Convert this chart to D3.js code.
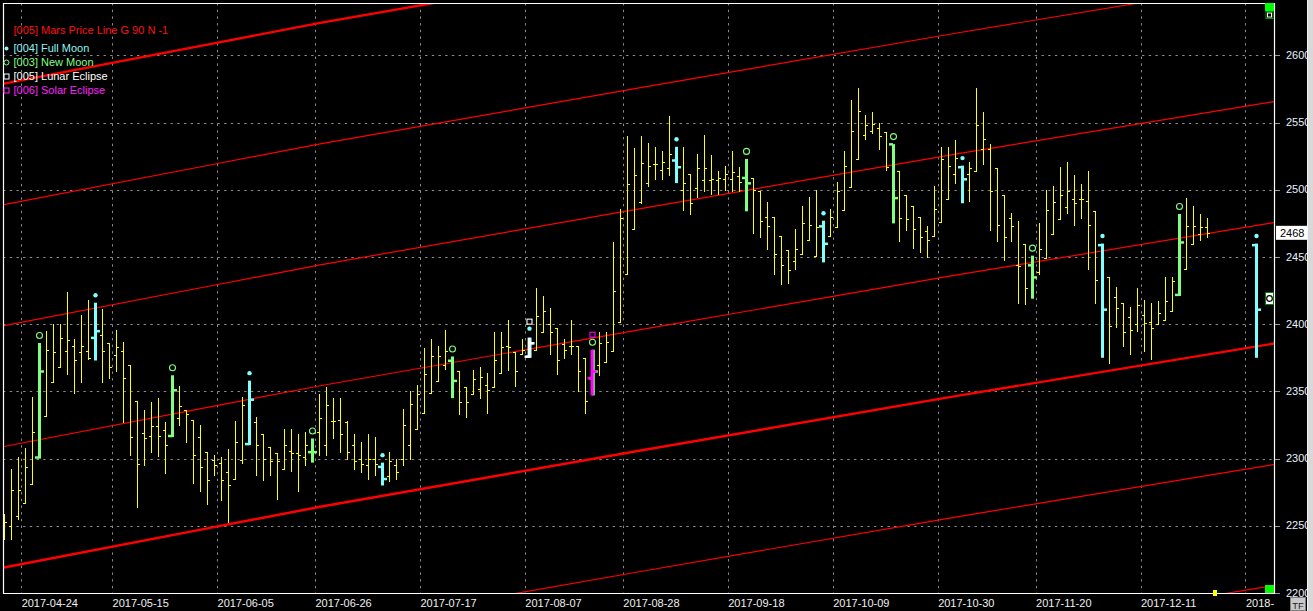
<!DOCTYPE html>
<html><head><meta charset="utf-8">
<script src="https://cdn.jsdelivr.net/npm/d3@7"></script>
<style>html,body{margin:0;padding:0;background:#000;overflow:hidden}text{font-family:"Liberation Sans",Arial,sans-serif}</style>
</head><body>
<svg id="c" width="1313" height="611"></svg>
<script>
// ---------- DATA ----------
// OHLC per trading bar (index 0 = first bar on the left); null = no bar
const opens = [2245,2250,2257,2267,2281,2301,2332,2357,2368,2380,2384,2379,2380,2390,2392,2386,2377,2380,2370,2343,
2319,2317,2324,2321,2317,2330,2336,2329,2316,2305,2299,2297,2290,2285,2299,2311,2327,2318,2309,2304,
2292,2306,2304,2301,2305,2320,2310,2328,2329,2327,2310,2300,2295,2300,2294,2287,2295,2300,2310,2322,
2334,2349,2358,2370,2373,2365,2353,2348,2352,2355,2353,2364,2384,2379,2378,2376,2381,2394,2400,2397,
2385,2384,2384,2375,2360,2370,2372,2380,2402,2437,2471,2491,2505,2519,2515,2516,2522,2500,2512,2501,
2507,2507,2507,2508,2508,2510,2509,2509,2499,2480,2480,2466,2455,2447,2452,2463,2451,2473,2466,2472,
2485,2502,2523,2541,2544,2546,2543,2534,2514,2496,2488,2480,2469,2466,2476,2493,2512,2517,2512,2514,
2530,2530,2516,2496,2479,2444,2460,2444,2439,2449,2467,2478,2487,2493,2493,2492,2484,2459,2435,2420,
2416,2405,2400,2407,2402,2400,2403,2410,2422,2441,2460,2467,2472,null,null,null,null,null,null,2459];
const highs = [2259,2292,2301,2308,2346,2386,2395,2400,2400,2424,2389,2407,2418,2416,2411,2386,2396,2387,2370,2343,
2336,2342,2345,2327,2362,2354,2336,2329,2325,2305,2303,2301,2307,2328,2346,2358,2331,2318,2309,2304,
2322,2322,2318,2320,2315,2348,2353,2345,2345,2328,2318,2312,2318,2316,2297,2305,2300,2337,2350,2355,
2382,2389,2384,2396,2376,2365,2353,2366,2368,2364,2394,2394,2403,2379,2389,2390,2427,2421,2412,2397,
2389,2403,2384,2375,2381,2394,2394,2461,2486,2540,2531,2540,2535,2532,2529,2555,2532,2532,2512,2527,
2541,2526,2514,2518,2529,2517,2523,2509,2499,2491,2480,2466,2455,2471,2488,2495,2500,2477,2486,2506,
2529,2567,2576,2556,2558,2550,2543,2534,2514,2496,2488,2480,2473,2503,2532,2532,2537,2518,2521,2576,
2558,2534,2516,2496,2483,2477,2460,2451,2475,2500,2503,2517,2521,2511,2504,2514,2484,2460,2435,2428,
2416,2413,2427,2418,2416,2417,2435,2435,2482,2494,2488,2482,2479,null,null,null,null,null,null,2460];
const lows = [2240,2240,2255,2267,2281,2300,2332,2357,2368,2363,2349,2357,2374,2373,2357,2360,2365,2327,2303,2264,
2295,2305,2302,2289,2316,2325,2312,2282,2276,2266,2288,2269,2253,2285,2297,2310,2288,2284,2288,2270,
2292,2291,2276,2295,2297,2303,2303,2315,2305,2300,2292,2290,2285,2288,2280,2283,2285,2295,2300,2322,
2334,2349,2358,2367,2345,2333,2331,2348,2345,2334,2353,2364,2366,2354,2378,2375,2381,2394,2378,2363,
2375,2378,2350,2334,2347,2362,2372,2380,2402,2437,2471,2490,2503,2508,2508,2511,2505,2485,2482,2495,
2499,2497,2497,2500,2499,2499,2484,2468,2465,2456,2437,2430,2431,2441,2452,2463,2451,2446,2466,2472,
2485,2502,2523,2538,2542,2530,2515,2475,2462,2470,2457,2454,2450,2466,2476,2493,2505,2490,2492,2514,
2519,2470,2462,2448,2462,2416,2415,2419,2437,2449,2467,2478,2483,2474,2479,2441,2416,2375,2371,2398,
2384,2378,2395,2380,2374,2400,2403,2410,2421,2441,2460,2463,2465,null,null,null,null,null,null,2375];
const closes = [2253,2277,2277,2294,2320,2365,2381,2379,2390,2388,2373,2384,2375,2395,2380,2368,2383,2360,2316,2296,
2315,2324,2317,2310,2351,2339,2333,2303,2294,2284,2295,2284,2280,2312,2340,2344,2310,2300,2298,2298,
2310,2304,2303,2310,2305,2330,2340,2328,2318,2305,2298,2296,2300,2296,2285,2298,2290,2325,2341,2348,
2363,2376,2376,2380,2358,2342,2342,2359,2361,2351,2373,2383,2383,2365,2381,2386,2406,2410,2394,2373,
2381,2384,2365,2343,2365,2386,2387,2425,2479,2504,2511,2520,2518,2519,2521,2527,2517,2505,2490,2516,
2516,2508,2509,2512,2513,2506,2505,2500,2477,2473,2452,2444,2440,2456,2475,2474,2472,2460,2480,2499,
2518,2544,2559,2548,2549,2540,2517,2494,2479,2478,2471,2465,2463,2486,2523,2518,2524,2508,2516,2548,
2538,2499,2474,2465,2473,2443,2427,2435,2456,2485,2491,2496,2499,2490,2493,2474,2433,2411,2399,2412,
2394,2396,2414,2401,2397,2408,2417,2432,2461,2473,2473,2472,2468,null,null,null,null,null,null,2411];

const fullMoonIdx = [13,35,54,75,96,117,137,157,179];
const newMoonIdx = [5,24,44,64,84,106,127,147,168];
const lunarEclipseIdx = [75];
const solarEclipseIdx = [84];

// Mars price line: base value read at bar positions; parallel lines every 90
const marsIdx  = [-1, 0, 30, 45, 91, 136, 182];
const marsBase = [2218, 2219, 2249, 2264, 2306, 2346.5, 2386];
const marsOffsets = [-180, -90, 0, 90, 180, 270, 360];
const marsThick = [0, 360];

const tickIdx = [3,16,31,45,60,75,89,104,119,134,148,163,178];
const tickLabels = ["2017-04-24","2017-05-15","2017-06-05","2017-06-26","2017-07-17","2017-08-07",
"2017-08-28","2017-09-18","2017-10-09","2017-10-30","2017-11-20","2017-12-11","2018-01-01"];
const yTicks = [2200,2250,2300,2350,2400,2450,2500,2550,2600];
const lastPrice = 2468;

const legend = [
  {label:"[005] Mars Price Line G 90 N -1", color:"#ff1010", sym:null},
  {label:"[004] Full Moon", color:"#8ff2f2", sym:"dot"},
  {label:"[003] New Moon", color:"#80ff80", sym:"circle"},
  {label:"[005] Lunar Eclipse", color:"#ffffff", sym:"square"},
  {label:"[006] Solar Eclipse", color:"#ff20ff", sym:"square"}
];

// ---------- CHART ----------
const svg = d3.select("#c");
const P = {l:3, t:3, r:1274, b:593};
const x = d3.scaleLinear().domain([0,179]).range([4,1256.3]);
const y = d3.scaleLinear().domain([2200,2639]).range([593,3]);
const px = v => Math.round(v) + 0.5;

svg.append("rect").attr("width",1313).attr("height",611).attr("fill","#000");
const defs = svg.append("defs");
defs.append("clipPath").attr("id","plotclip").append("rect")
  .attr("x",P.l).attr("y",P.t).attr("width",P.r-P.l).attr("height",P.b-P.t);
defs.append("clipPath").attr("id","xlabclip").append("rect")
  .attr("x",0).attr("y",594).attr("width",1274).attr("height",17);

const g = svg.append("g").attr("clip-path","url(#plotclip)");

// grid
const dash = "2.4,4.3";
g.selectAll(".hg").data(yTicks.filter(v=>v>2200)).enter().append("line")
  .attr("x1",P.l).attr("x2",P.r).attr("y1",d=>px(y(d))).attr("y2",d=>px(y(d)))
  .attr("stroke","#8a8a8a").attr("stroke-dasharray",dash);
g.selectAll(".vg").data(tickIdx).enter().append("line")
  .attr("x1",d=>px(x(d-0.55))).attr("x2",d=>px(x(d-0.55))).attr("y1",P.t).attr("y2",P.b)
  .attr("stroke","#8a8a8a").attr("stroke-dasharray",dash);

// Mars lines
const marsPts = marsIdx.map((d,i)=>({i:d,v:marsBase[i]}));
marsOffsets.forEach(off=>{
  const line = d3.line().x(d=>x(d.i)).y(d=>y(d.v+off));
  g.append("path").attr("d",line(marsPts)).attr("fill","none")
    .attr("stroke","#ff0000").attr("stroke-width", marsThick.includes(off)?2.4:1.2);
});

// OHLC bars
const bars = opens.map((o,i)=>({i,o,h:highs[i],l:lows[i],c:closes[i]})).filter(d=>d.o!=null);
const colorOf = d => lunarEclipseIdx.includes(d.i) ? "#ffffff" :
  solarEclipseIdx.includes(d.i) ? "#ff00ff" :
  fullMoonIdx.includes(d.i) ? "#80ffff" :
  newMoonIdx.includes(d.i) ? "#80ff80" : null;

const plain = bars.filter(d=>!colorOf(d));
const gb = g.append("g").attr("stroke","#ffff00").attr("stroke-width",1);
plain.forEach(d=>{
  const cx = px(x(d.i));
  gb.append("line").attr("x1",cx).attr("x2",cx).attr("y1",Math.round(y(d.h))).attr("y2",Math.round(y(d.l))+1);
  gb.append("line").attr("x1",cx-2.5).attr("x2",cx).attr("y1",px(y(d.o))).attr("y2",px(y(d.o)));
  gb.append("line").attr("x1",cx).attr("x2",cx+2.5).attr("y1",px(y(d.c))).attr("y2",px(y(d.c)));
});

const ge = g.append("g");
function eventBar(d, col, dx){
  const cx = Math.round(x(d.i)) + 0.5 + dx;
  ge.append("line").attr("x1",cx).attr("x2",cx).attr("y1",y(d.h)).attr("y2",y(d.l))
    .attr("stroke",col).attr("stroke-width",3);
  ge.append("rect").attr("x",cx-4.5).attr("y",y(d.o)-1).attr("width",4).attr("height",2.5).attr("fill",col);
  ge.append("rect").attr("x",cx+0.5).attr("y",y(d.c)-1).attr("width",4).attr("height",2.5).attr("fill",col);
}
bars.filter(d=>colorOf(d)).forEach(d=>{
  if (lunarEclipseIdx.includes(d.i)) { eventBar(d,"#80ffff",0.6); eventBar(d,"#ffffff",-0.4); }
  else if (solarEclipseIdx.includes(d.i)) { eventBar(d,"#80ff80",0.8); eventBar(d,"#ff00ff",-0.4); }
  else eventBar(d,colorOf(d),0);
});

// markers above event bars
bars.forEach(d=>{
  const cx = Math.round(x(d.i)) + 0.5, top = y(d.h);
  if (fullMoonIdx.includes(d.i)) {
    const off = lunarEclipseIdx.includes(d.i) ? 9 : 7.5;
    ge.append("circle").attr("cx",cx).attr("cy",top-off).attr("r",2.2).attr("fill","#80ffff");
  }
  if (newMoonIdx.includes(d.i)) {
    ge.append("circle").attr("cx",cx).attr("cy",top-7.5).attr("r",3).attr("fill","none")
      .attr("stroke","#80ff80").attr("stroke-width",1.1);
  }
  if (lunarEclipseIdx.includes(d.i)) {
    ge.append("rect").attr("x",cx-2.5).attr("y",top-18.5).attr("width",5).attr("height",5)
      .attr("fill","none").attr("stroke","#ffffff").attr("stroke-width",1.1);
  }
  if (solarEclipseIdx.includes(d.i)) {
    ge.append("rect").attr("x",cx-2.5).attr("y",top-17.5).attr("width",5).attr("height",5)
      .attr("fill","none").attr("stroke","#ff00ff").attr("stroke-width",1.1);
  }
});

// plot border
svg.append("path").attr("d",`M${P.l+0.5},${P.t} V${P.b+0.5} H${P.r+0.5} V${P.t+0.5} H${P.l}`)
  .attr("fill","none").attr("stroke","#ffffff").attr("stroke-width",1.2);

// right axis
const ya = svg.append("g");
yTicks.forEach(v=>{
  ya.append("line").attr("x1",P.r+1).attr("x2",P.r+6).attr("y1",px(y(v))).attr("y2",px(y(v)))
    .attr("stroke","#9a9a9a").attr("stroke-width",1);
  ya.append("text").attr("x",1286).attr("y",y(v)).attr("dy","0.33em")
    .attr("font-size",11).attr("fill","#e8f0ff").text(v);
});
// last price box
svg.append("rect").attr("x",1276).attr("y",y(lastPrice)-7).attr("width",31).attr("height",14).attr("fill","#fff");
svg.append("text").attr("x",1280).attr("y",y(lastPrice)).attr("dy","0.36em").attr("font-size",11)
  .attr("fill","#000").text(lastPrice);

// x labels (the last one is cut off by the axis panel, as in the original)
const xl = svg.append("g").attr("clip-path","url(#xlabclip)");
tickIdx.forEach((t,k)=>{
  const lx = x(t-0.55)+0.5;
  const tx = xl.append("text").attr("x",lx).attr("y",607).attr("font-size",11)
    .attr("fill","#f0f0f0").text(tickLabels[k]);
  let s = tickLabels[k];
  while (s.length > 1 && lx + tx.node().getComputedTextLength() > 1281) {
    s = s.slice(0,-1); tx.text(s);
  }
});

// legend
legend.forEach((d,k)=>{
  const ly = 30 + k*14 + (k>0?4.5:0);
  svg.append("text").attr("x",13.5).attr("y",ly).attr("dy","0.36em").attr("font-size",11)
    .attr("fill",d.color).text(d.label);
  if (d.sym==="dot") svg.append("circle").attr("cx",6.5).attr("cy",ly).attr("r",2).attr("fill",d.color);
  if (d.sym==="circle") svg.append("circle").attr("cx",6.5).attr("cy",ly).attr("r",2.5)
    .attr("fill","none").attr("stroke",d.color);
  if (d.sym==="square") svg.append("rect").attr("x",4).attr("y",ly-2.5).attr("width",5).attr("height",5)
    .attr("fill","none").attr("stroke",d.color);
});

// decorations at chart edges
svg.append("rect").attr("x",1265).attr("y",3).attr("width",9).attr("height",8).attr("fill","#00ff00");
svg.append("rect").attr("x",1266).attr("y",11.5).attr("width",7).attr("height",7).attr("fill","#000").attr("stroke","#00a000");
svg.append("rect").attr("x",1267.5).attr("y",13).attr("width",4).attr("height",4).attr("fill","none").attr("stroke","#fff");
svg.append("rect").attr("x",1265.5).attr("y",292.5).attr("width",8).attr("height",12).attr("fill","#fff").attr("stroke","#008000");
svg.append("circle").attr("cx",1269.5).attr("cy",298.5).attr("r",2.8).attr("fill","none").attr("stroke","#000").attr("stroke-width",1.2);
svg.append("rect").attr("x",1265).attr("y",585).attr("width",9).attr("height",8).attr("fill","#00ff00");
svg.append("rect").attr("x",1213).attr("y",590).attr("width",4).attr("height",6).attr("fill","#ffff00");

// right strip and TF button
svg.append("rect").attr("x",1307).attr("y",0).attr("width",6).attr("height",611).attr("fill","#d8d8d8");
svg.append("line").attr("x1",1307.5).attr("x2",1307.5).attr("y1",0).attr("y2",611).attr("stroke","#f4f4f4");
svg.append("rect").attr("x",1290.5).attr("y",597.5).attr("width",15).attr("height",13).attr("fill","#c8c8c8").attr("stroke","#808080");
svg.append("text").attr("x",1298).attr("y",608.5).attr("text-anchor","middle")
  .attr("font-size",9.5).attr("fill","#202020").text("TF");
</script>
</body></html>
